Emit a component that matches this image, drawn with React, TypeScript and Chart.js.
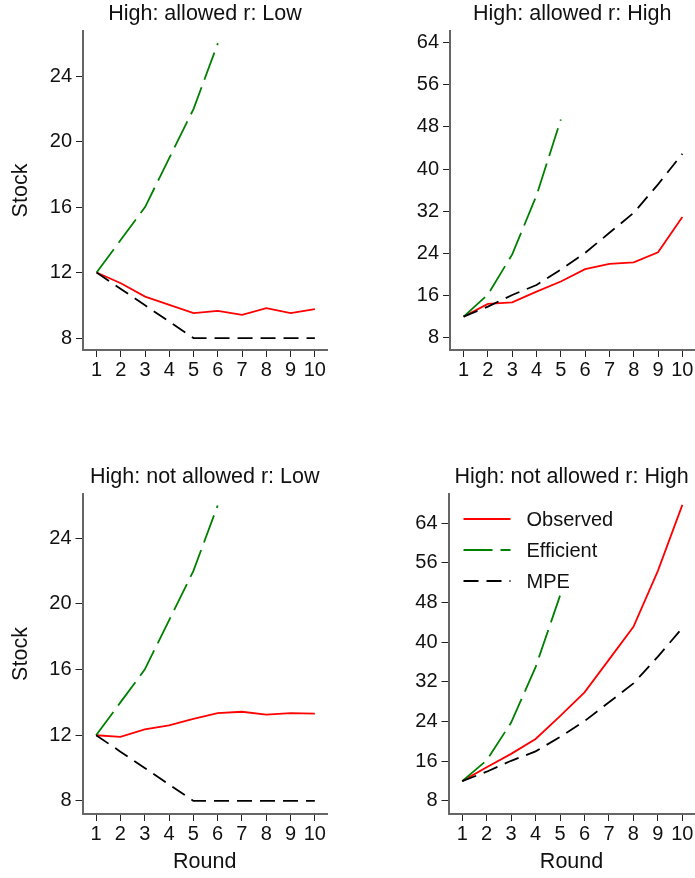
import React, { useEffect, useRef } from 'react';
import { Chart, registerables } from 'chart.js';

Chart.register(...registerables);

// ---------- data ----------
const rounds = [1, 2, 3, 4, 5, 6, 7, 8, 9, 10];
const xTickValues = [1, 2, 3, 4, 5, 6, 7, 8, 9, 10];
const lowTickValues = [8, 12, 16, 20, 24];
const highTickValues = [8, 16, 24, 32, 40, 48, 56, 64];

const seriesNames = ['Observed', 'Efficient', 'MPE'];

const efficientLow = [12, 14, 16, 19, 22, 26];
const mpeLow = [12, 11, 10, 9, 8, 8, 8, 8, 8, 8];
const observedAllowedLow = [12, 11.35, 10.53, 10.03, 9.52, 9.66, 9.42, 9.83, 9.52, 9.76];
const observedNotAllowedLow = [12, 11.9, 12.35, 12.6, 13.0, 13.35, 13.43, 13.26, 13.35, 13.32];

const efficientHigh = [12, 16.2, 23.8, 35, 49.4];
const mpeHigh = [12, 13.9, 16.1, 18.0, 20.9, 24.1, 27.9, 31.7, 37.1, 42.9];
const observedAllowedHigh = [12, 14.4, 14.7, 16.75, 18.65, 21.0, 22.0, 22.3, 24.2, 30.9];
const observedNotAllowedHigh = [12, 14.8, 17.5, 20.5, 25.1, 29.9, 36.5, 43.1, 54.4, 67.7];

const panelTitles = [
  'High: allowed r: Low',
  'High: allowed r: High',
  'High: not allowed r: Low',
  'High: not allowed r: High',
];
const yAxisTitle = 'Stock';
const xAxisTitle = 'Round';

// ---------- styling ----------
const FONT = "'Liberation Sans', Arial, Helvetica, sans-serif";
const TEXT = '#111111';
const RED = '#ff0000';
const GREEN = '#008000';
const BLACK = '#000000';

const pts = (vals: number[]) => vals.map((v, i) => ({ x: rounds[i], y: v }));

type PanelProps = {
  title: string;
  observed: number[];
  efficient: number[];
  mpe: number[];
  yTicks: number[];
  yMin: number;
  yMax: number;
  showYTitle: boolean;
  showXTitle: boolean;
  showLegend: boolean;
  left: number;
  top: number;
  width: number;
  height: number;
  yAxisWidth: number;
  xAxisHeight: number;
  padRight: number;
};

const innerLegend = {
  id: 'innerLegend',
  afterDatasetsDraw(chart: any, _args: any, opts: any) {
    if (!opts || !opts.show) return;
    const { ctx, chartArea } = chart;
    chart.data.datasets.forEach((ds: any, i: number) => {
      const y = chartArea.top + 25 + i * 31;
      ctx.save();
      ctx.strokeStyle = ds.borderColor;
      ctx.lineWidth = ds.borderWidth;
      ctx.setLineDash(ds.borderDash || []);
      ctx.beginPath();
      ctx.moveTo(chartArea.left + 15, y);
      ctx.lineTo(chartArea.left + 62, y);
      ctx.stroke();
      ctx.restore();
      ctx.save();
      ctx.font = `20px ${FONT}`;
      ctx.fillStyle = TEXT;
      ctx.textBaseline = 'middle';
      ctx.textAlign = 'left';
      ctx.fillText(ds.label, chartArea.left + 78, y + 1);
      ctx.restore();
    });
  },
};

function Panel(p: PanelProps) {
  const ref = useRef<HTMLCanvasElement>(null);
  useEffect(() => {
    if (!ref.current) return;
    const tickFont = { family: FONT, size: 20, weight: 'normal' as const };
    const titleFont = { family: FONT, size: 21.5, weight: 'normal' as const };
    const chart = new Chart(ref.current, {
      type: 'line',
      data: {
        datasets: [
          {
            label: seriesNames[0],
            data: pts(p.observed),
            borderColor: RED,
            backgroundColor: RED,
            borderWidth: 1.8,
            pointRadius: 0,
            tension: 0,
            order: 3,
          },
          {
            label: seriesNames[1],
            data: pts(p.efficient),
            borderColor: GREEN,
            backgroundColor: GREEN,
            borderWidth: 1.8,
            borderDash: [29, 8],
            pointRadius: 0,
            tension: 0,
            order: 2,
          },
          {
            label: seriesNames[2],
            data: pts(p.mpe),
            borderColor: BLACK,
            backgroundColor: BLACK,
            borderWidth: 1.8,
            borderDash: [15, 8],
            pointRadius: 0,
            tension: 0,
            order: 1,
          },
        ],
      },
      options: {
        animation: false,
        responsive: false,
        events: [],
        layout: { padding: { left: 0, right: p.padRight, top: 0, bottom: 0 } },
        plugins: {
          legend: { display: false },
          tooltip: { enabled: false },
          title: {
            display: true,
            text: p.title,
            fullSize: false,
            color: TEXT,
            font: titleFont,
            padding: { top: 1.4, bottom: 3.8 },
          },
          innerLegend: { show: p.showLegend },
        } as any,
        scales: {
          x: {
            type: 'linear',
            min: 0.44,
            max: 10.5,
            afterBuildTicks: (s: any) => {
              s.ticks = xTickValues.map((v) => ({ value: v }));
            },
            afterFit: (s: any) => {
              s.height = p.xAxisHeight;
            },
            grid: {
              display: true,
              drawOnChartArea: false,
              drawTicks: true,
              tickLength: 7,
              tickColor: '#222222',
              tickWidth: 1,
              color: '#222222',
            },
            border: { display: true, color: '#666666', width: 2 },
            ticks: {
              font: tickFont,
              color: TEXT,
              padding: 1.5,
              maxRotation: 0,
              autoSkip: false,
              callback: (v: any) => String(v),
            },
            title: {
              display: p.showXTitle,
              text: xAxisTitle,
              color: TEXT,
              font: titleFont,
              padding: { top: 0, bottom: 2.6 },
            },
          },
          y: {
            type: 'linear',
            min: p.yMin,
            max: p.yMax,
            afterBuildTicks: (s: any) => {
              s.ticks = p.yTicks.map((v) => ({ value: v }));
            },
            afterFit: (s: any) => {
              s.width = p.yAxisWidth;
            },
            grid: {
              display: true,
              drawOnChartArea: false,
              drawTicks: true,
              tickLength: 7,
              tickColor: '#222222',
              tickWidth: 1,
              color: '#222222',
            },
            border: { display: true, color: '#666666', width: 2 },
            ticks: {
              font: tickFont,
              color: TEXT,
              padding: 4,
              autoSkip: false,
              callback: (v: any) => String(v),
            },
            title: {
              display: p.showYTitle,
              text: yAxisTitle,
              color: TEXT,
              font: titleFont,
              padding: { top: 8.5, bottom: 0 },
            },
          },
        },
      },
      plugins: [innerLegend],
    } as any);
    return () => chart.destroy();
  }, []);
  return (
    <canvas
      ref={ref}
      width={p.width}
      height={p.height}
      style={{ position: 'absolute', left: p.left, top: p.top, width: p.width, height: p.height, display: 'block' }}
    />
  );
}

export default function App() {
  return (
    <div style={{ position: 'fixed', left: 0, top: 0, width: 695, height: 878, background: '#ffffff', overflow: 'hidden' }}>
      <Panel
        title={panelTitles[0]}
        observed={observedAllowedLow}
        efficient={efficientLow}
        mpe={mpeLow}
        yTicks={lowTickValues}
        yMin={7.27}
        yMax={26.75}
        showYTitle={true}
        showXTitle={false}
        showLegend={false}
        left={0}
        top={0}
        width={347}
        height={395}
        yAxisWidth={83}
        xAxisHeight={45}
        padRight={20}
      />
      <Panel
        title={panelTitles[1]}
        observed={observedAllowedHigh}
        efficient={efficientHigh}
        mpe={mpeHigh}
        yTicks={highTickValues}
        yMin={5.66}
        yMax={66.2}
        showYTitle={false}
        showXTitle={false}
        showLegend={false}
        left={347}
        top={0}
        width={348}
        height={395}
        yAxisWidth={103}
        xAxisHeight={45}
        padRight={0}
      />
      <Panel
        title={panelTitles[2]}
        observed={observedNotAllowedLow}
        efficient={efficientLow}
        mpe={mpeLow}
        yTicks={lowTickValues}
        yMin={7.2}
        yMax={26.7}
        showYTitle={true}
        showXTitle={true}
        showLegend={false}
        left={0}
        top={463}
        width={347}
        height={415}
        yAxisWidth={82.5}
        xAxisHeight={64}
        padRight={20}
      />
      <Panel
        title={panelTitles[3]}
        observed={observedNotAllowedHigh}
        efficient={efficientHigh}
        mpe={mpeHigh}
        yTicks={highTickValues}
        yMin={5.37}
        yMax={69.9}
        showYTitle={false}
        showXTitle={true}
        showLegend={true}
        left={347}
        top={463}
        width={348}
        height={415}
        yAxisWidth={101.5}
        xAxisHeight={64}
        padRight={0}
      />
    </div>
  );
}
